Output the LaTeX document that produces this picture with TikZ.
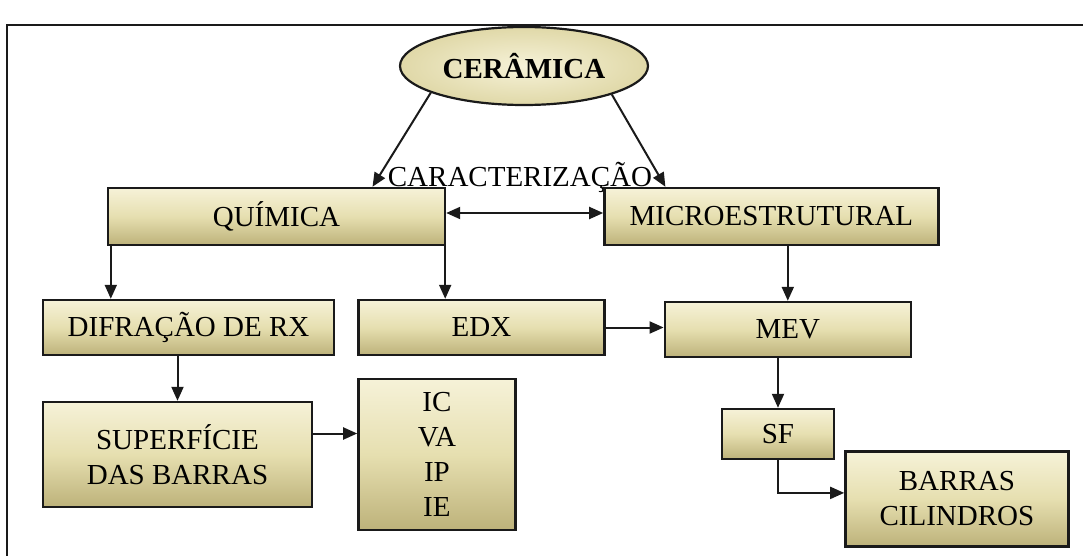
\documentclass[tikz,border=0pt]{standalone}
\usepackage{fontspec}
\setmainfont{Liberation Serif}
\usepackage{tikz}
\usetikzlibrary{shapes.geometric, arrows.meta, positioning, calc}
\definecolor{khakilight}{HTML}{F6F2D8}
\definecolor{khakimid}{HTML}{E6DFB0}
\definecolor{khakidark}{HTML}{BDB27A}
\definecolor{inkline}{HTML}{1A1A1A}
\tikzset{
  cbox/.style={rectangle, draw=inkline, line width=1.2pt,
               top color=khakilight, bottom color=khakidark, middle color=khakimid,
               align=center, inner sep=2pt,
               font=\fontsize{14.5}{17.5}\selectfont},
  croot/.style={ellipse, draw=inkline, line width=1.1pt,
                inner color=khakilight, outer color=khakimid!85!khakidark,
                minimum width=124pt, minimum height=39pt, inner sep=0pt,
                font=\fontsize{14.5}{17.5}\selectfont\bfseries},
  conn/.style={-{Triangle[length=7pt,width=6pt]}, line width=1pt, color=inkline},
  biconn/.style={{Triangle[length=7pt,width=6pt]}-{Triangle[length=7pt,width=6pt]},
                 line width=1pt, color=inkline},
  lbl/.style={font=\fontsize{14.5}{17.5}\selectfont, inner sep=0pt},
}
\begin{document}
\begin{tikzpicture}[x=0.5pt, y=-0.5pt]

  \useasboundingbox (0,0) rectangle (1083,556);
  % frame
  \draw[line width=1pt, color=inkline] (7,556) -- (7,25) -- (1083,25);

  % -- top --
  \node[croot] (ceramica) at (524,66) {CERÂMICA};
  \node[lbl] (caract) at (520,177) {CARACTERIZAÇÃO};

  % -- row 1 --
  \node[cbox, minimum width=168.5pt, minimum height=28.5pt] (quimica) at (276.5,216.5) {QUÍMICA};
  \node[cbox, minimum width=167pt, minimum height=28.5pt, right=78.5pt of quimica] (micro) {MICROESTRUTURAL};

  % -- row 2 --
  \node[cbox, minimum width=145.5pt, minimum height=27.5pt] (difr) at (188.5,327.5) {DIFRAÇÃO DE RX};
  \node[cbox, minimum width=123pt, minimum height=27.5pt, right=11pt of difr] (edx) {EDX};
  \node[cbox, minimum width=123pt, minimum height=27.5pt, right=29pt of edx, yshift=-1pt] (mev) {MEV};

  % -- row 3 --
  \node[cbox, minimum width=134.5pt, minimum height=52.5pt] (superf) at (177.5,454.5) {SUPERFÍCIE\\DAS BARRAS};
  \node[cbox, minimum width=78.5pt, minimum height=75.5pt, right=22pt of superf] (indices) {IC\\VA\\IP\\IE};
  \node[cbox, minimum width=56pt, minimum height=25pt] (sf) at (778,434) {SF};
  \node[cbox, minimum width=111.5pt, minimum height=47.5pt, anchor=north west,
        below right=-5pt and 4.5pt of sf.south east] (barras) {BARRAS\\CILINDROS};

  % -- edges --
  \draw[conn] (ceramica.196) -- ([xshift=48pt]quimica.north);
  \draw[conn] (ceramica.342) -- ([xshift=-53pt]micro.north);
  \draw[biconn] (quimica.east |- 0,213) -- (micro.west |- 0,213);

  \draw[conn] ([xshift=2pt]quimica.south west) -- ([xshift=2pt]quimica.south west |- difr.north);
  \draw[conn] ([xshift=-0.5pt]quimica.south east) -- ([xshift=-0.5pt]quimica.south east |- edx.north);
  \draw[conn] (mev.north |- micro.south) -- (mev.north);
  \draw[conn] (edx.east) -- (edx.east -| mev.west);

  \draw[conn] (superf.north |- difr.south) -- (superf.north);
  \draw[conn] ([yshift=10.5pt]superf.east) -- ([yshift=10.5pt]superf.east -| indices.west);

  \draw[conn] (sf.north |- mev.south) -- (sf.north);
  \draw[conn] (sf.south) |- ([yshift=3pt]barras.west);

\end{tikzpicture}
\end{document}
